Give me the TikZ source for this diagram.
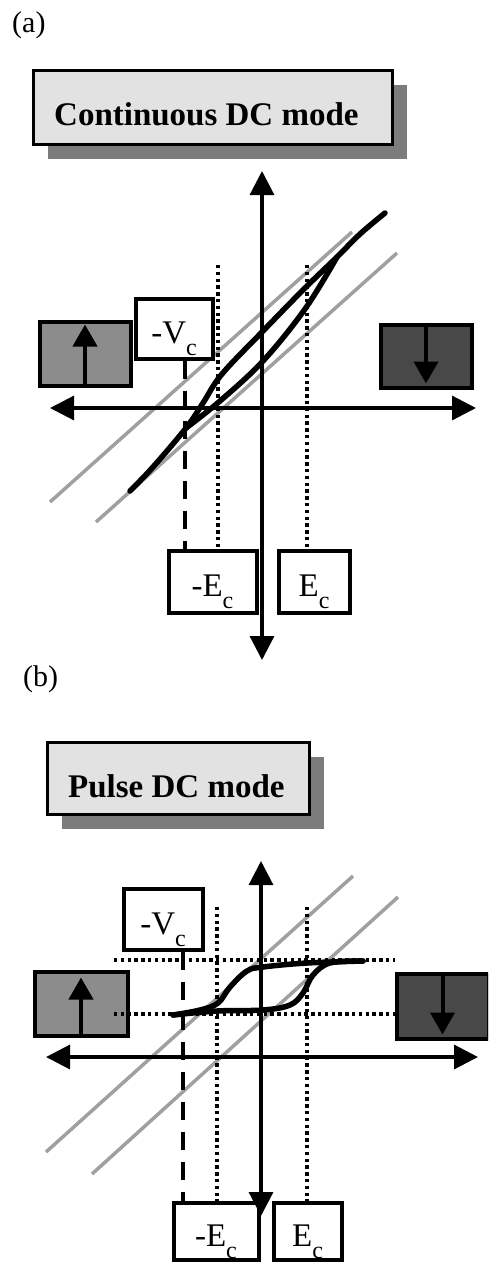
\documentclass[tikz,border=0pt]{standalone}
\usepackage{fontspec}
\setmainfont{Liberation Serif}
\usetikzlibrary{arrows.meta,shadows}
\definecolor{TitleBg}{HTML}{E2E2E2}
\definecolor{ShadowGray}{HTML}{7C7C7C}
\definecolor{UpFill}{HTML}{8C8C8C}
\definecolor{DownFill}{HTML}{484848}
\definecolor{BiasGray}{HTML}{A0A0A0}
\tikzset{
  title box/.style={draw=black,fill=TitleBg,line width=3.5pt,inner sep=0pt,
    general shadow={fill=ShadowGray,shadow xshift=14pt,shadow yshift=-14pt}},
  title text/.style={anchor=base west,inner sep=0pt,font=\bfseries\fontsize{33}{33}\selectfont},
  panel tag/.style={anchor=base west,inner sep=0pt,font=\fontsize{30}{30}\selectfont},
  value box/.style={draw=black,fill=white,line width=4pt,inner sep=0pt,
    text height=30pt,text depth=0pt,font=\fontsize{33}{33}\selectfont},
  spin box/.style={draw=black,line width=4pt,inner sep=0pt},
  spin arrow/.style={line width=4pt,-{Triangle[length=22pt,width=24pt]}},
  axis/.style={line width=3.2pt,{Triangle[length=24pt,width=24pt]}-{Triangle[length=24pt,width=24pt]}},
  bias line/.style={draw=BiasGray,line width=3.5pt},
  guide dots/.style={line width=3.8pt,dash pattern=on 3.4pt off 3.4pt},
  guide dash/.style={line width=3.5pt,dash pattern=on 18pt off 12pt},
  hyst curve/.style={line width=5.5pt,line cap=round,line join=round}
}
\newcommand{\LowSub}[1]{\raisebox{-12pt}{\fontsize{24}{24}\selectfont #1}}

\begin{document}
\begin{tikzpicture}[x=1pt,y=-1pt]
  \useasboundingbox (0,0) rectangle (488,1264);
  \clip (0,0) rectangle (488,1264);

  % Panel (a)
  \node[panel tag] (tagA) at (12,32) {(a)};
  \node[title box,minimum width=359pt,minimum height=74pt] (titleA) at (213,107.5) {};
  \node[title text] (titleTextA) at (54,125) {Continuous DC mode};

  \draw[bias line] (50,502) -- (352,232);
  \draw[bias line] (96,522) -- (397,253);

  \node[value box,minimum width=77pt,minimum height=60pt] (vcA) at (174,328.5) {-V\LowSub{c}};
  \node[value box,minimum width=88pt,minimum height=62pt] (ecnA) at (212.5,581.5) {-E\LowSub{c}};
  \node[value box,minimum width=71pt,minimum height=62pt] (ecpA) at (314,581.5) {E\LowSub{c}};
  \node[spin box,fill=UpFill,minimum width=91pt,minimum height=64pt] (upA) at (85,353.5) {};
  \node[spin box,fill=DownFill,minimum width=91pt,minimum height=63pt] (downA) at (426,356) {};
  \draw[spin arrow] (upA.south) -- ([yshift=-5pt]upA.north);
  \draw[spin arrow] (downA.north) -- ([yshift=6pt]downA.south);

  \coordinate (eyA) at (262,660);
  \coordinate (ezA) at (262,171);
  \coordinate (exA) at (50,408);
  \coordinate (ewA) at (476,408);
  \draw[axis] (eyA) -- (ezA);
  \draw[axis] (exA) -- (ewA);

  \coordinate (vcLineA) at (185,0);
  \coordinate (ecnTopA) at (218,265);
  \coordinate (ecpTopA) at (307,265);
  \draw[guide dash] (vcA.south -| vcLineA) -- (ecnA.north -| vcLineA);
  \draw[guide dots] (ecnTopA) -- (ecnA.north -| ecnTopA);
  \draw[guide dots] (ecpTopA) -- (ecpA.north -| ecpTopA);

  \draw[hyst curve] plot[smooth,tension=0.6] coordinates {(130,491) (153,467) (186,428) (203,403) (222,374) (263,331) (305,288) (337,257) (360,234) (385,213)};
  \draw[hyst curve] plot[smooth,tension=0.6] coordinates {(186,428) (220,401) (263,361) (305,309) (337,257)};

  % Panel (b)
  \node[panel tag] (tagB) at (23,686) {(b)};
  \node[title box,minimum width=262pt,minimum height=72pt] (titleB) at (178.5,778.5) {};
  \node[title text] (titleTextB) at (68,797) {Pulse DC mode};

  \draw[bias line] (46,1152) -- (353,876);
  \draw[bias line] (92,1174) -- (398,897);

  \node[value box,minimum width=79pt,minimum height=61pt] (vcB) at (163,919) {-V\LowSub{c}};
  \node[value box,minimum width=85pt,minimum height=57pt] (ecnB) at (216,1231) {-E\LowSub{c}};
  \node[value box,minimum width=68pt,minimum height=57pt] (ecpB) at (307.5,1231) {E\LowSub{c}};
  \node[spin box,fill=UpFill,minimum width=93pt,minimum height=64pt] (upB) at (81,1003.5) {};
  \node[spin box,fill=DownFill,minimum width=92pt,minimum height=65pt] (downB) at (442.5,1006) {};
  \draw[spin arrow] (upB.south) -- ([yshift=-8pt]upB.north);
  \draw[spin arrow] (downB.north) -- ([yshift=6pt]downB.south);

  \coordinate (eyB) at (261,1216);
  \coordinate (ezB) at (261,861);
  \coordinate (exB) at (46,1057);
  \coordinate (ewB) at (478,1057);
  \draw[axis] (eyB) -- (ezB);
  \draw[axis] (exB) -- (ewB);

  \coordinate (vcLineB) at (183,0);
  \coordinate (ecnTopB) at (217,907);
  \coordinate (ecpTopB) at (307,907);
  \coordinate (satTopB) at (114,960);
  \coordinate (satBotB) at (114,1014);
  \draw[guide dash] (vcB.south -| vcLineB) -- (ecnB.north -| vcLineB);
  \draw[guide dots] (ecnTopB) -- (ecnB.north -| ecnTopB);
  \draw[guide dots] (ecpTopB) -- (ecpB.north -| ecpTopB);
  \draw[guide dots] (satTopB) -- (downB.west |- satTopB);
  \draw[guide dots] (satBotB) -- (downB.west |- satBotB);

  \draw[hyst curve] plot[smooth,tension=0.6] coordinates {(173,1015) (200,1010) (218,1003) (230,987) (247,971) (263,967) (307,963) (363,961)};
  \draw[hyst curve] plot[smooth,tension=0.6] coordinates {(173,1015) (217,1011) (263,1010) (290,1005) (303,993) (313,975) (330,963) (363,961)};
\end{tikzpicture}
\end{document}
